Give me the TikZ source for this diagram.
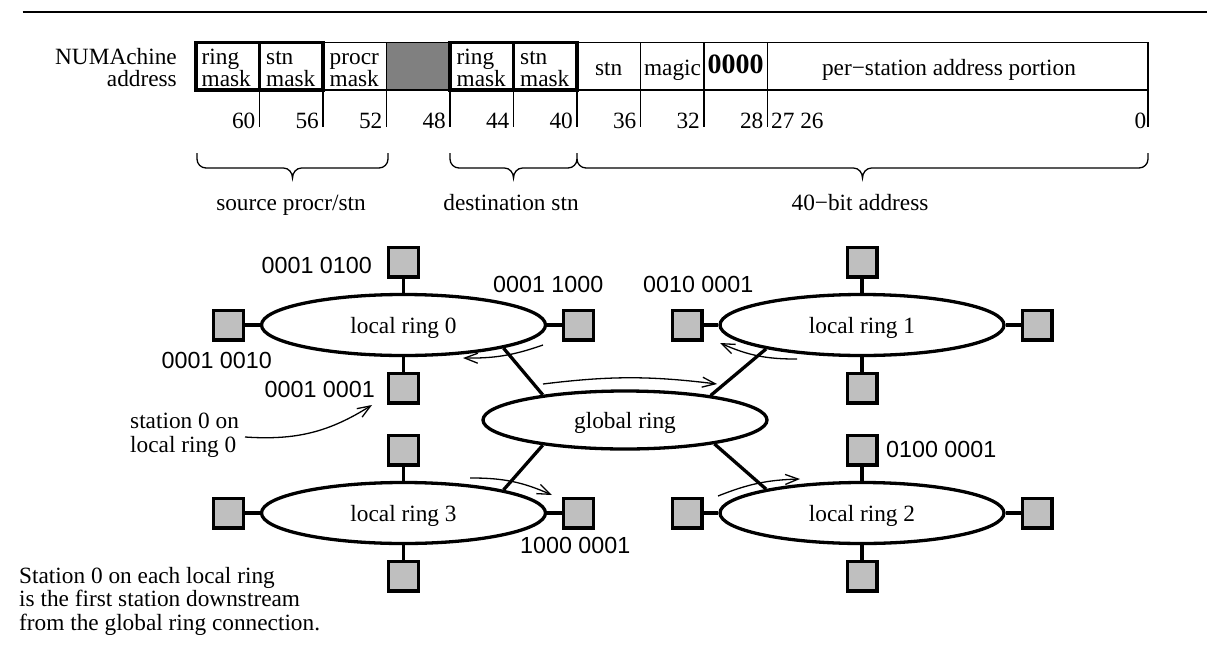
\documentclass[tikz,border=0pt]{standalone}
\usepackage{fontspec}
\setmainfont{Liberation Serif}
\newfontfamily\lsans{Liberation Sans}
\usetikzlibrary{shapes.geometric,arrows.meta}
\definecolor{stfill}{HTML}{BFBFBF}
\definecolor{gcell}{HTML}{808080}
\begin{document}
\begin{tikzpicture}[x=1pt,y=-1pt,
  txt/.style={inner sep=0pt, font=\fontsize{23.3}{22}\selectfont},
  sans/.style={inner sep=0pt, font=\lsans\fontsize{23.3}{24}\selectfont},
  cell/.style={draw, line width=1.3pt, minimum height=47.3pt, inner sep=0pt, outer sep=0pt},
  heavy/.style={line width=3.3pt},
  thinline/.style={line width=1.3pt},
  ring/.style={ellipse, draw, line width=3.3pt, minimum width=284pt, minimum height=61pt, inner sep=0pt, text depth=0pt, fill=white, font=\fontsize{23.3}{24}\selectfont},
  station/.style={draw, line width=3.3pt, fill=stfill, minimum size=29.7pt, inner sep=0pt},
  flow/.style={line width=1.3pt, -{Straight Barb[length=13pt,width=10pt]}},
]
\useasboundingbox (0,0) rectangle (1207,648);
% top rule
\draw[line width=2pt] (22.7,11.7) -- (1207,11.7);

% label
\node[txt, anchor=base east] (lab1) at (177,64) {NUMAchine};
\node[txt, anchor=base east] (lab2) at (177,86) {address};

% cells
\node[cell, minimum width=63.5pt] (c1) at (227.75,66.35) {};
\node[cell, minimum width=63.5pt] (c2) at (291.25,66.35) {};
\node[cell, minimum width=63.5pt] (c3) at (354.75,66.35) {};
\node[cell, minimum width=63.5pt, fill=gcell] (c4) at (418.25,66.35) {};
\node[cell, minimum width=63.5pt] (c5) at (481.75,66.35) {};
\node[cell, minimum width=63.5pt] (c6) at (545.25,66.35) {};
\node[cell, minimum width=63.5pt] (c7) at (608.75,66.35) {};
\node[cell, minimum width=63.5pt] (c8) at (672.25,66.35) {};
\node[cell, minimum width=63.5pt] (c9) at (735.75,66.35) {};
\node[cell, minimum width=380.5pt] (c10) at (957.75,66.35) {};
\draw[heavy] (c1.north west) rectangle (c2.south east);
\draw[heavy] (c1.north east) -- (c1.south east);
\draw[heavy] (c5.north west) rectangle (c6.south east);
\draw[heavy] (c5.north east) -- (c5.south east);
\draw[line width=2.2pt] (c10.north east) -- (c10.south east) -- ++(0,37);
\foreach \c in {c1,c2,c3,c4,c5,c6,c7,c8,c9}
  \draw[thinline] (\c.south east) -- ++(0,37);

% cell texts
\node[txt, anchor=base west] (t1a) at (201.5,64) {ring};
\node[txt, anchor=base west] (t1b) at (201.5,86) {mask};
\node[txt, anchor=base west] (t2a) at (266,64) {stn};
\node[txt, anchor=base west] (t2b) at (266,86) {mask};
\node[txt, anchor=base west] (t3a) at (329.5,64) {procr};
\node[txt, anchor=base west] (t3b) at (329.5,86) {mask};
\node[txt, anchor=base west] (t5a) at (456.5,64) {ring};
\node[txt, anchor=base west] (t5b) at (456.5,86) {mask};
\node[txt, anchor=base west] (t6a) at (520,64) {stn};
\node[txt, anchor=base west] (t6b) at (520,86) {mask};
\node[txt, anchor=base] (t7) at (608.75,75) {stn};
\node[txt, anchor=base] (t8) at (672.5,75) {magic};
\node[txt, anchor=base, font=\fontsize{28}{28}\selectfont\bfseries] (t9) at (735.5,73) {0000};
\node[txt, anchor=base] (t10) at (949,75) {per−station address portion};

% bit numbers
\node[txt, anchor=base east] (n60) at (255.5,128) {60};
\node[txt, anchor=base east] (n56) at (319,128) {56};
\node[txt, anchor=base east] (n52) at (382.5,128) {52};
\node[txt, anchor=base east] (n48) at (446,128) {48};
\node[txt, anchor=base east] (n44) at (509.5,128) {44};
\node[txt, anchor=base east] (n40) at (573,128) {40};
\node[txt, anchor=base east] (n36) at (636.5,128) {36};
\node[txt, anchor=base east] (n32) at (700,128) {32};
\node[txt, anchor=base east] (n28) at (763.5,128) {28};
\node[txt, anchor=base west] (n27) at (771,128) {27 26};
\node[txt, anchor=base east] (n0) at (1146.5,128) {0};

% braces
\draw[thinline] (197,153) -- (197,159) to[out=-90,in=180] (206,168) -- (283.5,168)
  to[out=0,in=90] (292.5,178) to[out=90,in=180] (301.5,168) -- (379,168)
  to[out=0,in=-90] (388,159) -- (388,153);
\draw[thinline] (450,153) -- (450,159) to[out=-90,in=180] (459,168) -- (504.5,168)
  to[out=0,in=90] (513.5,178) to[out=90,in=180] (522.5,168) -- (568,168)
  to[out=0,in=-90] (577,159) -- (577,153);
\draw[thinline] (577,159) to[out=-90,in=180] (586,168) -- (853.5,168)
  to[out=0,in=90] (862.5,178) to[out=90,in=180] (871.5,168) -- (1139,168)
  to[out=0,in=-90] (1148,159) -- (1148,153);
\node[txt, anchor=base] (b1) at (291,210) {source procr/stn};
\node[txt, anchor=base] (b2) at (511,210) {destination stn};
\node[txt, anchor=base] (b3) at (860,210) {40−bit address};

% rings
\node[ring] (lr0) at (403.5,325) {local ring 0};
\node[ring] (lr1) at (862,325) {local ring 1};
\node[ring] (lr2) at (862,513) {local ring 2};
\node[ring] (lr3) at (403.5,513) {local ring 3};
\node[ring, minimum height=58pt] (gr) at (625,420) {global ring};

\foreach \r/\cx/\cy in {lr0/403.5/325, lr1/862/325, lr2/862/513, lr3/403.5/513} {
  \node[station] (\r-w) at (\cx-175,\cy) {};
  \node[station] (\r-e) at (\cx+175,\cy) {};
  \node[station] (\r-n) at (\cx,\cy-63) {};
  \node[station] (\r-s) at (\cx,\cy+63) {};
  \draw[heavy] (\r-w) -- (\r);
  \draw[heavy] (\r-e) -- (\r);
  \draw[heavy] (\r-n) -- (\r);
  \draw[heavy] (\r-s) -- (\r);
}

% global connections
\draw[heavy] (lr0.-13) -- (gr.163);
\draw[heavy] (lr1.-166) -- (gr.16);
\draw[heavy] (lr3.13) -- (gr.-163);
\draw[heavy] (lr2.166) -- (gr.-15);

% flow arrows
\coordinate (f1s) at (543,345); \coordinate (f1e) at (463,358);
\coordinate (f2s) at (543,384); \coordinate (f2e) at (717,384);
\coordinate (f3s) at (797,359); \coordinate (f3e) at (720,343);
\coordinate (f4s) at (470,478); \coordinate (f4e) at (552,495);
\coordinate (f5s) at (718,496); \coordinate (f5e) at (800,479);
\draw[flow] (f1s) to[bend left=10] (f1e);
\draw[flow] (f2s) to[bend left=7] (f2e);
\draw[flow] (f3s) to[bend left=12] (f3e);
\draw[flow] (f4s) to[bend left=12] (f4e);
\draw[flow] (f5s) to[bend left=10] (f5e);

% station address labels
\node[sans, anchor=base east] (a1) at (372,273) {0001 0100};
\node[sans, anchor=base west] (a2) at (493,292) {0001 1000};
\node[sans, anchor=base east] (a3) at (272,368) {0001 0010};
\node[sans, anchor=base east] (a4) at (375,397) {0001 0001};
\node[sans, anchor=base west] (a5) at (643,292) {0010 0001};
\node[sans, anchor=base west] (a6) at (886,457) {0100 0001};
\node[sans, anchor=base west] (a7) at (520,553) {1000 0001};

% station 0 callout
\node[txt, anchor=base west] (s0a) at (130,428) {station 0 on};
\node[txt, anchor=base west] (s0b) at (130,452) {local ring 0};
\coordinate (s0from) at (245,437);
\coordinate (s0to) at (372,405);
\draw[flow] (s0from) to[bend right=18] (s0to);

% note
\node[txt, anchor=base west] (note1) at (19,583.3) {Station 0 on each local ring};
\node[txt, anchor=base west] (note2) at (19,606.7) {is the first station downstream};
\node[txt, anchor=base west] (note3) at (19,630) {from the global ring connection.};
\end{tikzpicture}
\end{document}
